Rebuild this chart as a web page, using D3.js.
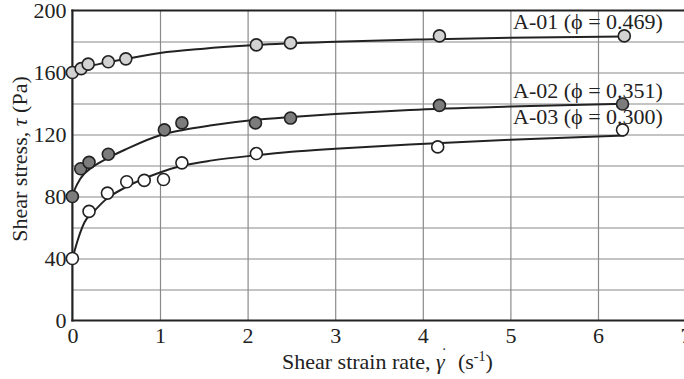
<!DOCTYPE html>
<html lang="en">

<head>
    <meta charset="UTF-8">
    <title>Shear stress vs shear strain rate</title>
    <script src="https://d3js.org/d3.v7.min.js"></script>
    <style>
        body { margin: 0; background: #fff; }
        svg text { font-family: "Liberation Serif", "Times New Roman", serif; fill: #222; }
    </style>
</head>

<body>
    <svg width="684" height="379"></svg>

    <script>
        // measured points
        const a01X = [0, 0.1, 0.18, 0.41, 0.61, 2.1, 2.49, 4.19, 6.3]
        const a01Y = [160, 162.5, 165.4, 166.9, 168.8, 177.8, 179.1, 183.6, 183.6]

        const a02X = [0, 0.095, 0.19, 0.41, 1.05, 1.25, 2.09, 2.49, 4.19, 6.28]
        const a02Y = [80, 97.9, 102, 107.3, 123, 127.5, 127.5, 130.6, 138.8, 139.7]

        const a03X = [0, 0.19, 0.40, 0.62, 0.82, 1.04, 1.25, 2.1, 4.17, 6.28]
        const a03Y = [40, 70.4, 82.2, 89.5, 90.4, 91, 101.7, 107.7, 112, 123]

        // fitted curves
        const fit01X = [0, 0.05, 0.1, 0.3, 0.6, 1, 1.5, 2, 3, 4, 5, 6.3]
        const fit01Y = [160, 161.6, 162.8, 165.4, 168.6, 172.6, 175.4, 177.4, 179.8, 181.3, 182.4, 183.3]

        const fit02X = [0, 0.03, 0.09, 0.24, 0.41, 0.62, 1, 1.25, 1.57, 2.1, 2.5, 3, 3.85, 5, 6.3]
        const fit02Y = [80, 85, 91.4, 99.4, 105, 110.7, 119.5, 122.8, 125.8, 129.5, 131.3, 133.2, 135.8, 138, 139.8]

        const fit03X = [0, 0.03, 0.067, 0.14, 0.24, 0.37, 0.62, 1, 1.25, 1.6, 2.1, 2.5, 3, 3.85, 5, 6.3]
        const fit03Y = [40, 46, 52.9, 63.5, 70, 77.5, 86.3, 95.5, 99.8, 103.3, 106.6, 108.8, 110.8, 113.6, 116.6, 119.3]

        const seriesNames = ["A-01", "A-02", "A-03"]
        const phiValues = ["0.469", "0.351", "0.300"]
        const labelY = [188, 143.7, 127]

        const xTicks = [0, 1, 2, 3, 4, 5, 6, 7]
        const yTicks = [0, 40, 80, 120, 160, 200]

        const fills = ["#d2d2d2", "#7c7c7c", "#ffffff"]

        const svg = d3.select("svg")
        const x = d3.scaleLinear().domain([0, 7]).range([72.4, 685.6])
        const y = d3.scaleLinear().domain([0, 200]).range([320.5, 10.5])

        // grid
        svg.append("g")
            .attr("transform", `translate(${x(0)},0)`)
            .call(d3.axisLeft(y).tickValues(d3.range(20, 200, 20))
                .tickSize(-(x(7) - x(0))).tickFormat(""))
            .call(g => g.select(".domain").remove())
            .selectAll("line").attr("stroke", "#8a8a8a").attr("stroke-width", 1.2)

        svg.append("g")
            .attr("transform", `translate(0,${y(0)})`)
            .call(d3.axisBottom(x).tickValues(d3.range(1, 8))
                .tickSize(-(y(0) - y(200))).tickFormat(""))
            .call(g => g.select(".domain").remove())
            .selectAll("line").attr("stroke", "#8a8a8a").attr("stroke-width", 1.2)

        // axes
        const yAxis = svg.append("g")
            .attr("transform", `translate(${x(0)},0)`)
            .call(d3.axisLeft(y).tickValues(yTicks).tickSize(0).tickPadding(6))
        yAxis.select(".domain").remove()
        yAxis.selectAll("text").attr("font-size", 22).attr("dy", "0.34em")

        const xAxis = svg.append("g")
            .attr("transform", `translate(0,${y(0)})`)
            .call(d3.axisBottom(x).tickValues(xTicks).tickSize(0).tickFormat(d3.format("d")))
        xAxis.select(".domain").remove()
        xAxis.selectAll("text").attr("font-size", 22).attr("y", 22).attr("dy", 0)

        svg.append("line")
            .attr("x1", x(0)).attr("x2", x(0)).attr("y1", y(0) + 1).attr("y2", y(200) - 1)
            .attr("stroke", "#222").attr("stroke-width", 2.2)
        svg.append("line")
            .attr("x1", x(0) - 1).attr("x2", x(7)).attr("y1", y(0)).attr("y2", y(0))
            .attr("stroke", "#222").attr("stroke-width", 2.2)
        svg.append("line")
            .attr("x1", x(0) - 1).attr("x2", x(7)).attr("y1", y(200)).attr("y2", y(200))
            .attr("stroke", "#222").attr("stroke-width", 2.2)

        // curves
        const line = d3.line()
            .x(d => x(d[0]))
            .y(d => y(d[1]))
            .curve(d3.curveMonotoneX)

        const fits = [[fit01X, fit01Y], [fit02X, fit02Y], [fit03X, fit03Y]]
        fits.forEach(f => {
            svg.append("path")
                .datum(f[0].map((v, i) => [v, f[1][i]]))
                .attr("d", line)
                .attr("fill", "none")
                .attr("stroke", "#222")
                .attr("stroke-width", 2)
        })

        // points
        const points = [[a01X, a01Y], [a02X, a02Y], [a03X, a03Y]]
        points.forEach((p, k) => {
            svg.append("g").selectAll("circle")
                .data(p[0].map((v, i) => [v, p[1][i]]))
                .enter()
                .append("circle")
                .attr("cx", d => x(d[0]))
                .attr("cy", d => y(d[1]))
                .attr("r", 6)
                .attr("fill", fills[k])
                .attr("stroke", "#222")
                .attr("stroke-width", 1.6)
        })

        // series labels
        seriesNames.forEach((s, k) => {
            svg.append("text")
                .attr("x", x(5.03))
                .attr("y", y(labelY[k]))
                .attr("font-size", 22)
                .text(`${s} (\u03d5 = ${phiValues[k]})`)
        })

        // axis titles
        const xt = svg.append("text")
            .attr("x", 282)
            .attr("y", 369)
            .attr("font-size", 22)
        xt.append("tspan").text("Shear strain rate, ")
        xt.append("tspan").attr("font-style", "italic").text("\u03b3")
        xt.append("tspan").attr("dx", -3).attr("dy", -10).attr("font-size", 16).text("\u02d9")
        xt.append("tspan").attr("dy", 10).text("\u00a0\u00a0(s")
        xt.append("tspan").attr("dy", -8).attr("font-size", 14).text("-1")
        xt.append("tspan").attr("dy", 8).text(")")

        const yt = svg.append("text")
            .attr("transform", "translate(27,159) rotate(-90)")
            .attr("text-anchor", "middle")
            .attr("font-size", 22)
        yt.append("tspan").text("Shear stress, ")
        yt.append("tspan").attr("font-style", "italic").text("\u03c4")
        yt.append("tspan").text(" (Pa)")
    </script>
</body>

</html>
